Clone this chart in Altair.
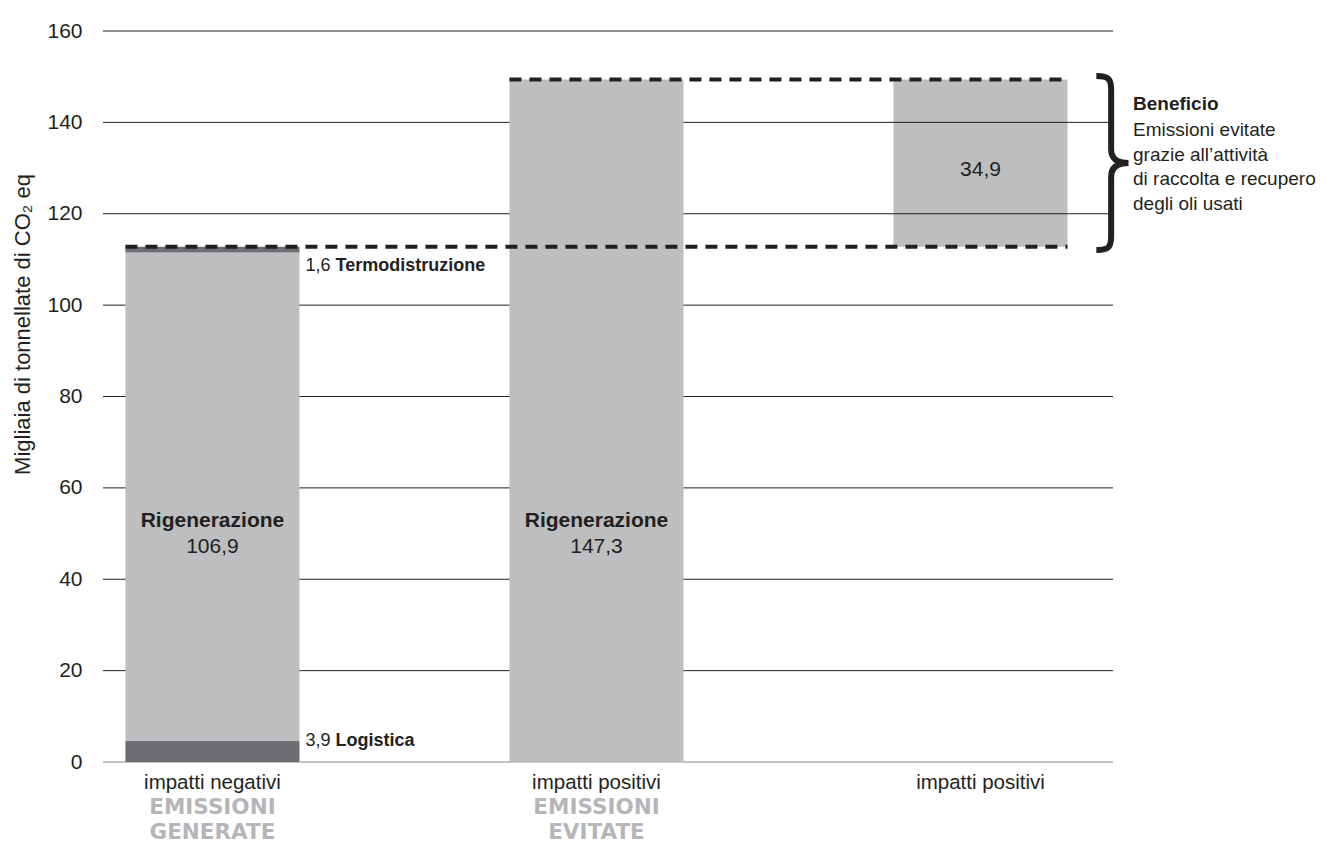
import altair as alt
import pandas as pd

# ---------------- data ----------------
bar_positions = [0, 1, 2]
bar_names = ["impatti negativi", "impatti positivi", "impatti positivi"]
group_line1 = ["EMISSIONI", "EMISSIONI", ""]
group_line2 = ["GENERATE", "EVITATE", ""]

# stacked segments
seg_bar = [0, 0, 0, 1]
seg_name = ["Logistica", "Rigenerazione", "Termodistruzione", "Rigenerazione"]
seg_value = [4.6, 106.9, 1.3, 149.4]
seg_tone = ["dark", "light", "dark", "light"]

# printed numbers
side_numbers = ["3,9", "1,6"]
side_names = ["Logistica", "Termodistruzione"]
center_names = ["Rigenerazione", "Rigenerazione"]
center_numbers = ["106,9", "147,3"]
benefit_number = ["34,9"]
benefit_title = "Beneficio"
benefit_lines = ["Emissioni evitate", "grazie all\u2019attivit\u00e0",
                 "di raccolta e recupero", "degli oli usati"]
y_ticks = [0, 20, 40, 60, 80, 100, 120, 140, 160]

# ---------------- layout / style ----------------
W, H = 1010, 731
HW = 0.2266  # half bar width in x units
FONT = "Liberation Sans"
INK = "#231f20"
LIGHT = "#bcbec0"
DARK = "#6d6e71"
xs = alt.Scale(domain=[-0.285, 2.345], nice=False, zero=False)
ys = alt.Scale(domain=[0, 160], nice=False)
YAX = alt.Axis(
    values=y_ticks, grid=False, domain=False, ticks=False, labelPadding=21,
    labelFontSize=21, labelFont=FONT, labelColor=INK,
    title="Migliaia di tonnellate di CO\u2082 eq", titleFont=FONT, titleFontSize=22,
    titleFontWeight="normal", titleColor=INK, titleX=-81, titleY=293,
    titleAngle=270, titleAlign="center", titleBaseline="middle")

# build tables
rows = []
base = {}
for b, n, v, t in zip(seg_bar, seg_name, seg_value, seg_tone):
    y0 = base.get(b, 0.0)
    rows.append({"x0": b - HW, "x1": b + HW, "y0": y0, "y1": y0 + v, "tone": t, "name": n})
    base[b] = y0 + v
seg_df = pd.DataFrame(rows)

gen_total = base[0]
avoided_total = base[1]
ben_df = pd.DataFrame([{"x0": 2 - HW, "x1": 2 + HW, "y0": gen_total, "y1": avoided_total}])

dash_df = pd.DataFrame([
    {"x0": 0 - HW, "x1": 2 + HW, "y": gen_total},
    {"x0": 1 - HW, "x1": 2 + HW, "y": avoided_total},
])

grid_df = pd.DataFrame({"v": y_ticks})
cat_df = pd.DataFrame({"pos": bar_positions, "name": bar_names,
                       "g1": group_line1, "g2": group_line2})

X = lambda f: alt.X(f, type="quantitative", scale=xs, axis=None)
Y = lambda f: alt.Y(f, type="quantitative", scale=ys, axis=YAX)

tone_color = alt.Color("tone:N", scale=alt.Scale(domain=["light", "dark"], range=[LIGHT, DARK]), legend=None)

benefit_bar = alt.Chart(ben_df).mark_rect(color=LIGHT).encode(
    x=X("x0"), x2="x1", y=Y("y0"), y2="y1")

grid = alt.Chart(grid_df).mark_rule(strokeWidth=1).encode(
    x=alt.value(0), x2=alt.value(W), y=Y("v"),
    color=alt.condition("datum.v == 0", alt.value("#8a8a8c"), alt.value(INK)),
    strokeWidth=alt.condition("datum.v == 0", alt.value(2), alt.value(1)))

bars = alt.Chart(seg_df).mark_rect().encode(
    x=X("x0"), x2="x1", y=Y("y0"), y2="y1", color=tone_color)

dashes = alt.Chart(dash_df).mark_rule(strokeWidth=4, strokeDash=[12, 8], color=INK).encode(
    x=X("x0"), x2="x1", y=Y("y"))

# side labels next to bar 1
side_df = pd.DataFrame({"pos": [0, 0], "num": side_numbers, "name": side_names,
                        "yy": [4.6, 108.6]})
side_num = alt.Chart(side_df).transform_calculate(xe=f"datum.pos + {HW}").mark_text(
    align="left", baseline="middle", dx=6, font=FONT, fontSize=18, color=INK).encode(
    x=X("xe"), y=Y("yy"), text="num:N")
side_name = alt.Chart(side_df).transform_calculate(xe=f"datum.pos + {HW}").mark_text(
    align="left", baseline="middle", dx=36, font=FONT, fontSize=18, fontWeight="bold", color=INK).encode(
    x=X("xe"), y=Y("yy"), text="name:N")

center_df = pd.DataFrame({"pos": [0, 1], "name": center_names, "num": center_numbers})
center_name = alt.Chart(center_df).mark_text(
    baseline="middle", font=FONT, fontSize=21, fontWeight="bold", color=INK).encode(
    x=X("pos"), y=alt.value(490), text="name:N")
center_num = alt.Chart(center_df).mark_text(
    baseline="middle", font=FONT, fontSize=21, color=INK).encode(
    x=X("pos"), y=alt.value(516), text="num:N")

ben_num_df = pd.DataFrame({"pos": [2], "num": benefit_number, "yy": [129.5]})
ben_num = alt.Chart(ben_num_df).mark_text(
    baseline="middle", font=FONT, fontSize=21, color=INK).encode(
    x=X("pos"), y=Y("yy"), text="num:N")

# category labels below the axis
cat_name = alt.Chart(cat_df).mark_text(baseline="middle", font=FONT, fontSize=20.5, color=INK).encode(
    x=X("pos"), y=alt.value(752), text="name:N")
cat_g1 = alt.Chart(cat_df).mark_text(baseline="middle", font="DejaVu Sans", fontSize=21.5, fontWeight="bold",
                                     color="#b5b6b9").encode(
    x=X("pos"), y=alt.value(777), text="g1:N")
cat_g2 = alt.Chart(cat_df).mark_text(baseline="middle", font="DejaVu Sans", fontSize=21.5, fontWeight="bold",
                                     color="#b5b6b9").encode(
    x=X("pos"), y=alt.value(802), text="g2:N")

# brace + benefit note
BRACE = ("M-0.18,-1 C-0.03,-1 -0.01,-0.96 -0.01,-0.84 L-0.01,-0.16 "
         "C-0.01,-0.05 0.06,0 0.19,0 C0.06,0 -0.01,0.05 -0.01,0.16 "
         "L-0.01,0.84 C-0.01,0.96 -0.03,1 -0.18,1")
brace_df = pd.DataFrame({"yy": [(gen_total + avoided_total) / 2]})
brace = alt.Chart(brace_df).mark_point(shape=BRACE, size=174 ** 2, filled=False,
                                       strokeWidth=6, color=INK, opacity=1).encode(
    x=alt.value(1009), y=Y("yy"))

note_title = alt.Chart(pd.DataFrame({"t": [benefit_title]})).mark_text(
    align="left", baseline="middle", font=FONT, fontSize=19, fontWeight="bold", color=INK).encode(
    x=alt.value(1030), y=alt.value(73), text="t:N")
note_df = pd.DataFrame({"t": benefit_lines, "i": list(range(len(benefit_lines)))})
note_body = alt.Chart(note_df).transform_calculate(py="99 + datum.i * 24.7").mark_text(
    align="left", baseline="middle", font=FONT, fontSize=19, color=INK).encode(
    x=alt.value(1030), y=alt.Y("py:Q", scale=None, axis=None), text="t:N")

chart = alt.layer(
    benefit_bar, grid, bars, dashes, side_num, side_name, center_name, center_num,
    ben_num, cat_name, cat_g1, cat_g2, brace, note_title, note_body
).properties(
    width=W, height=H,
    autosize=alt.AutoSizeParams(type="none"),
    padding={"left": 95, "top": 23, "right": 214, "bottom": 82},
).configure_view(stroke=None)

chart.save("out.html", embed_options={"renderer": "svg", "actions": False})
